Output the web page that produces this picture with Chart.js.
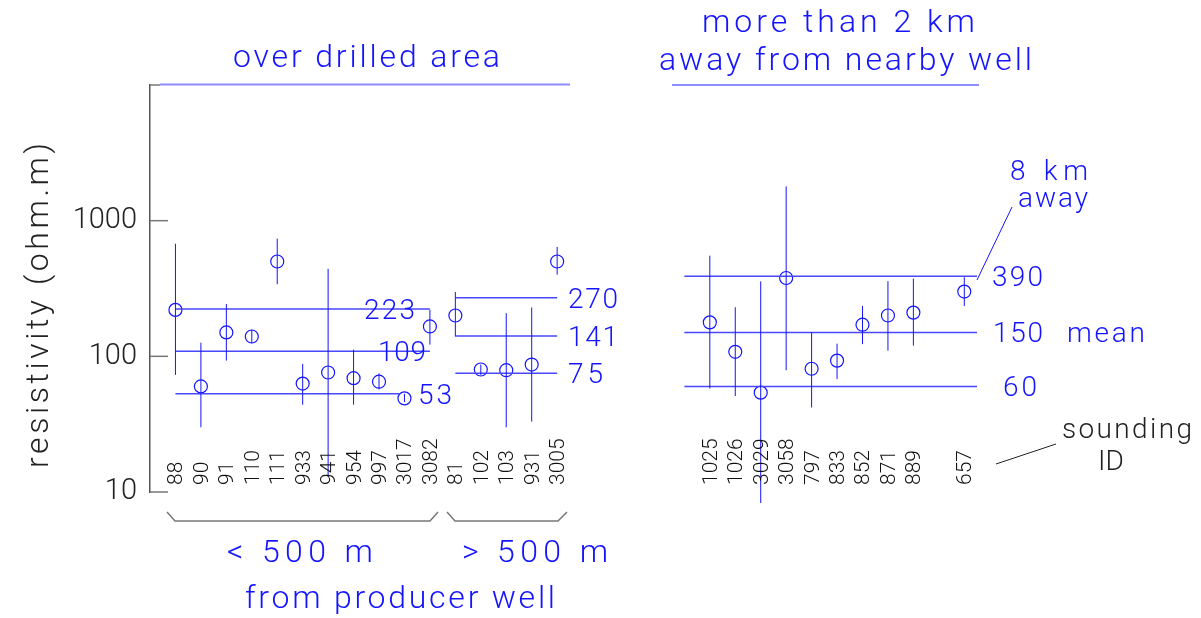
<!DOCTYPE html>
<html>
<head>
<meta charset="utf-8">
<script src="https://cdn.jsdelivr.net/npm/chart.js@4"></script>
<style>
  body { margin: 0; background: #fff; }
  #wrap { width: 1201px; height: 618px; }
</style>
</head>
<body>
<div id="wrap"><canvas id="chart"></canvas></div>
<script>
// soundings, left to right (x = slot along the profile)
const ids = ["88", "90", "91", "110", "111", "933", "941", "954", "997", "3017", "3082",
  "81", "102", "103", "931", "3005",
  "1025", "1026", "3029", "3058", "797", "833", "852", "871", "889", "657"];
const slots = [0, 1, 2, 3, 4, 5, 6, 7, 8, 9, 10, 11, 12, 13, 14, 15,
  21, 22, 23, 24, 25, 26, 27, 28, 29, 31];
const resistivity = [220, 60, 150, 140, 500, 63, 76, 69, 65, 49, 166,
  200, 80, 79, 87, 500,
  178, 108, 54, 378, 81, 93, 171, 200, 210, 300];
const lowErr = [73, 30, 93, 125, 340, 44, 13, 44, 57, 46, 122,
  140, 73, 30, 33, 400,
  58, 51, 8.3, 79, 42, 68, 123, 110, 120, 235];
const highErr = [676, 126, 243, 157, 737, 88, 442, 112, 75, 53, 220,
  298, 87, 208, 229, 640,
  552, 230, 357, 1790, 151, 124, 235, 358, 374, 383];

// upper / mean / lower lines of each group
const lineValues = [223, 109, 53, 270, 141, 75, 390, 150, 60];
const lineFrom = [0, 0, 0, 11, 11, 11, 20, 20, 20];
const lineTo = [10, 10, 8.8, 15, 15, 15, 31.5, 31.5, 31.5];

const yTicks = [10, 100, 1000];

const BLUE = "#1414ff";
const FONT = 'Roboto, "DejaVu Sans", sans-serif';
const W = 300;

const errData = [];
slots.forEach((s, i) => {
  errData.push({ x: s, y: lowErr[i] }, { x: s, y: highErr[i] }, { x: s, y: null });
});
const lineData = [];
lineValues.forEach((v, i) => {
  lineData.push({ x: lineFrom[i], y: v }, { x: lineTo[i], y: v }, { x: lineTo[i], y: null });
});
const pointData = slots.map((s, i) => ({ x: s, y: resistivity[i] }));

function txt(ctx, s, x, y, size, color, width) {
  ctx.font = W + " " + size + "px " + FONT;
  ctx.letterSpacing = "0px";
  if (width && s.length > 1) {
    const w = ctx.measureText(s).width;
    ctx.letterSpacing = ((width - w) / (s.length - 1)) + "px";
  }
  ctx.fillStyle = color;
  ctx.textAlign = "left";
  ctx.textBaseline = "alphabetic";
  ctx.fillText(s, x, y);
  ctx.letterSpacing = "0px";
}

function vtxt(ctx, s, x, y, size, color, width) {
  ctx.save();
  ctx.translate(x, y);
  ctx.rotate(-Math.PI / 2);
  txt(ctx, s, 0, 0, size, color, width);
  ctx.restore();
}

function seg(ctx, pts, color, w) {
  ctx.beginPath();
  ctx.moveTo(pts[0][0], pts[0][1]);
  for (let i = 1; i < pts.length; i++) ctx.lineTo(pts[i][0], pts[i][1]);
  ctx.strokeStyle = color;
  ctx.lineWidth = w;
  ctx.stroke();
}

const annotations = {
  id: "annotations",
  afterDraw(chart) {
    const ctx = chart.ctx;
    const xs = chart.scales.x, ys = chart.scales.y;
    const left = chart.chartArea.left;
    ctx.save();

    // inward ticks on the y axis
    [10, 100, 1000].forEach(v => {
      const y = ys.getPixelForValue(v);
      seg(ctx, [[left, y], [left + 18, y]], "#777", 1.5);
    });
    seg(ctx, [[left, ys.getPixelForValue(10000)], [left + 10, ys.getPixelForValue(10000)]], "#777", 1.5);

    // header underlines
    seg(ctx, [[left + 10, 84.5], [570, 84.5]], "#8c8cff", 2);
    seg(ctx, [[672, 85], [979, 85]], "#8c8cff", 2);

    // headers
    txt(ctx, "over drilled area", 233, 67, 32, BLUE, 267);
    txt(ctx, "more than 2 km", 702, 32, 32, BLUE, 273);
    txt(ctx, "away from nearby well", 659, 70, 32, BLUE, 373);

    // axis title
    vtxt(ctx, "resistivity (ohm.m)", 48, 468, 32, "#222", 325);

    // group line values
    const labelX = [364, 378, 418, 568, 568, 568, 992, 993, 1003];
    const labelW = [51, 48, 34, 50, 50, 35, 51, 50, 34];
    lineValues.forEach((v, i) => {
      txt(ctx, String(v), labelX[i], ys.getPixelForValue(v) + 10, 28, BLUE, labelW[i]);
    });
    txt(ctx, "mean", 1067, ys.getPixelForValue(150) + 10, 28, BLUE, 78);

    // 8 km away note
    txt(ctx, "8 km", 1010, 180, 28, BLUE, 78);
    txt(ctx, "away", 1018, 207, 28, BLUE, 70);
    seg(ctx, [[1012, 207], [977, 280]], BLUE, 1);

    // sounding IDs
    ids.forEach((id, i) => {
      vtxt(ctx, id, xs.getPixelForValue(slots[i]) + 7, 485, 21, "#111");
    });
    txt(ctx, "sounding", 1062, 438, 28, "#222", 130);
    txt(ctx, "ID", 1098, 470, 28, "#222");
    seg(ctx, [[1056, 444], [996, 464]], "#222", 1);

    // distance brackets
    seg(ctx, [[167, 512], [175, 521], [430, 521], [438, 512]], "#777", 1.5);
    seg(ctx, [[447, 512], [455, 521], [558, 521], [567, 512]], "#777", 1.5);
    txt(ctx, "< 500 m", 227, 562, 32, BLUE, 146);
    txt(ctx, "> 500 m", 462, 562, 32, BLUE, 146);
    txt(ctx, "from producer well", 245, 608, 32, BLUE, 310);

    ctx.restore();
  }
};

new Chart(document.getElementById("chart"), {
  type: "scatter",
  data: {
    datasets: [
      {
        type: "line",
        data: errData,
        borderColor: BLUE,
        borderWidth: 1,
        pointRadius: 0,
        spanGaps: false,
        clip: false
      },
      {
        type: "line",
        data: lineData,
        borderColor: "#4848ff",
        borderWidth: 1.5,
        pointRadius: 0,
        spanGaps: false
      },
      {
        data: pointData,
        pointStyle: "circle",
        pointRadius: 6.5,
        borderColor: BLUE,
        borderWidth: 1.2,
        backgroundColor: "rgba(0,0,0,0)"
      }
    ]
  },
  options: {
    responsive: true,
    maintainAspectRatio: false,
    animation: false,
    layout: { padding: { left: 0, right: 6, top: 85, bottom: 126 } },
    plugins: { legend: { display: false }, tooltip: { enabled: false } },
    scales: {
      x: { type: "linear", min: -1, max: 40, display: false },
      y: {
        type: "logarithmic",
        min: 10,
        max: 10000,
        afterFit(scale) { scale.width = 150; },
        grid: { display: false, drawTicks: false },
        border: { display: true, color: "#555", width: 1.5 },
        ticks: {
          autoSkip: false,
          padding: 13,
          color: "#222",
          font: { family: FONT, size: 29, weight: W },
          callback: v => yTicks.includes(v) ? String(v) : ""
        }
      }
    }
  },
  plugins: [annotations]
});
</script>
</body>
</html>
